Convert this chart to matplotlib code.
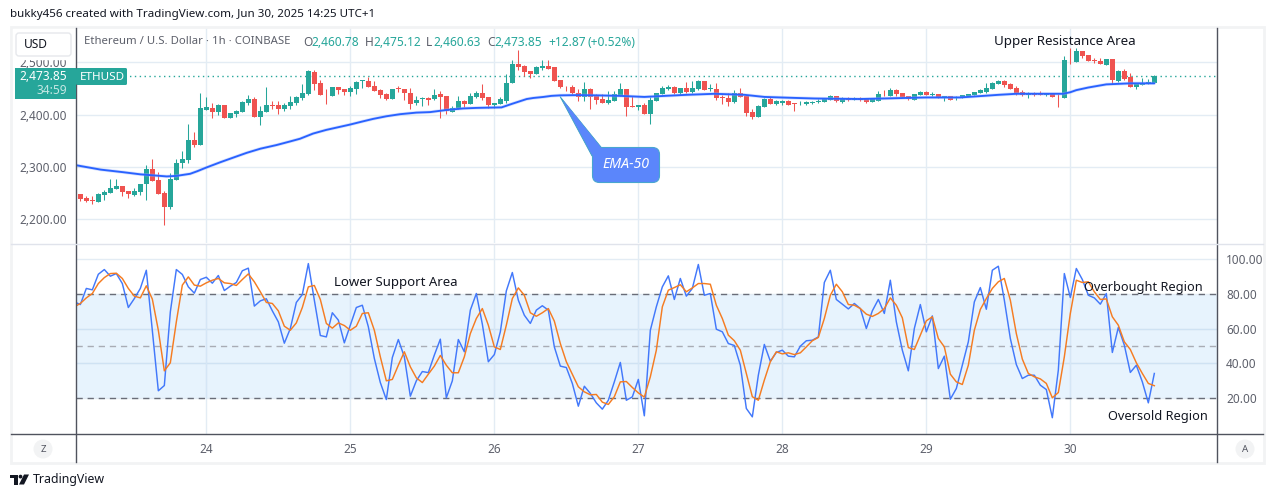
import numpy as np
import matplotlib
matplotlib.use("Agg")
import matplotlib.pyplot as plt
from matplotlib.patches import Rectangle, FancyBboxPatch, Polygon, Circle

plt.rcParams["font.family"] = "Noto Sans"

opens = [2249,2241,2237,2234,2247,2251,2258,2264,2254,2247,
2253,2267,2297,2276,2251,2223,2276,2307,2314,2351,
2342,2409,2413,2405,2418,2394,2401,2405,2423,2430,
2396,2405,2418,2418,2410,2417,2423,2432,2439,2482,
2460,2438,2435,2453,2449,2444,2449,2465,2464,2455,
2448,2440,2430,2451,2449,2442,2422,2430,2432,2430,
2439,2435,2406,2412,2426,2421,2433,2441,2433,2418,
2421,2426,2461,2497,2493,2483,2478,2490,2493,2492,
2466,2455,2453,2442,2433,2449,2437,2430,2422,2426,
2435,2449,2416,2415,2418,2401,2427,2439,2450,2453,
2441,2451,2443,2449,2464,2449,2449,2434,2431,2424,
2441,2435,2406,2395,2414,2430,2421,2423,2426,2422,
2422,2421,2423,2424,2424,2428,2435,2425,2431,2429,
2431,2431,2424,2426,2438,2435,2447,2441,2435,2429,
2437,2444,2437,2440,2432,2435,2431,2431,2435,2437,
2441,2443,2449,2458,2464,2458,2451,2443,2437,2440,
2441,2438,2440,2436,2431,2505,2501,2522,2514,2504,
2503,2496,2506,2464,2483,2472,2453,2456,2458,2460.78]
highs = [2249,2244,2244,2250,2256,2278,2278,2264,2254,2260,
2268,2303,2316,2290,2254,2289,2316,2330,2382,2366,
2441,2433,2422,2420,2418,2403,2409,2426,2437,2433,
2417,2453,2427,2426,2422,2435,2435,2459,2486,2485,
2466,2449,2453,2453,2449,2454,2464,2467,2472,2465,
2450,2442,2449,2455,2449,2451,2435,2433,2433,2449,
2446,2435,2416,2435,2428,2442,2446,2458,2433,2422,
2433,2478,2504,2524,2495,2483,2494,2504,2504,2492,
2466,2455,2457,2449,2462,2451,2439,2439,2445,2446,
2460,2449,2436,2419,2422,2434,2442,2454,2456,2454,
2451,2463,2464,2466,2464,2458,2460,2437,2441,2447,
2452,2437,2410,2419,2432,2433,2428,2428,2428,2422,
2426,2426,2427,2430,2431,2437,2435,2433,2433,2433,
2433,2431,2431,2445,2447,2451,2449,2441,2436,2440,
2445,2445,2444,2440,2435,2435,2435,2437,2440,2443,
2449,2460,2462,2466,2466,2460,2454,2447,2443,2443,
2445,2440,2440,2439,2512,2528,2528,2522,2514,2508,
2508,2506,2506,2485,2488,2479,2458,2470,2468,2475.12]
lows = [2235,2233,2230,2234,2236,2251,2258,2245,2241,2244,
2247,2236,2274,2249,2190,2219,2276,2299,2307,2338,
2342,2409,2394,2399,2394,2394,2396,2405,2419,2396,
2380,2405,2410,2401,2407,2410,2418,2428,2437,2448,
2438,2420,2435,2439,2438,2435,2439,2451,2453,2446,
2432,2428,2430,2443,2428,2411,2418,2417,2419,2428,
2394,2401,2405,2410,2414,2421,2431,2429,2413,2413,
2421,2422,2461,2486,2474,2470,2478,2486,2488,2465,
2451,2445,2439,2427,2426,2410,2420,2422,2420,2426,
2435,2397,2415,2409,2401,2383,2427,2439,2447,2439,
2439,2441,2441,2447,2447,2445,2429,2420,2416,2422,
2434,2397,2391,2395,2414,2420,2419,2418,2418,2408,
2418,2419,2420,2422,2424,2428,2424,2422,2426,2428,
2426,2422,2424,2426,2435,2435,2435,2433,2429,2429,
2437,2437,2435,2431,2427,2429,2429,2431,2435,2437,
2441,2441,2449,2458,2453,2449,2437,2435,2431,2435,
2437,2435,2433,2414,2431,2497,2501,2508,2503,2499,
2497,2495,2458,2462,2466,2453,2449,2456,2458,2460.63]
closes = [2239,2235,2235,2249,2253,2260,2264,2253,2248,2255,
2268,2297,2274,2249,2223,2278,2308,2316,2351,2342,
2412,2414,2405,2418,2394,2403,2407,2424,2430,2396,
2407,2418,2417,2410,2419,2424,2433,2441,2483,2459,
2438,2437,2453,2448,2444,2451,2462,2466,2453,2446,
2437,2430,2449,2450,2442,2421,2429,2432,2428,2437,
2434,2407,2413,2426,2421,2435,2441,2431,2418,2422,
2430,2461,2497,2492,2482,2478,2492,2493,2488,2465,
2453,2454,2441,2434,2449,2434,2429,2422,2428,2439,
2449,2415,2415,2419,2401,2429,2441,2451,2453,2441,
2451,2443,2451,2464,2447,2450,2431,2432,2424,2441,
2434,2404,2395,2416,2430,2420,2426,2426,2418,2420,
2423,2424,2424,2427,2430,2436,2426,2431,2429,2431,
2429,2424,2431,2439,2437,2447,2439,2433,2430,2439,
2443,2437,2440,2431,2435,2429,2433,2437,2439,2443,
2447,2451,2460,2464,2456,2449,2440,2437,2441,2438,
2437,2440,2433,2435,2504,2504,2522,2512,2503,2503,
2497,2506,2466,2483,2469,2453,2458,2460,2462,2473.85]

ema_bar = [-1,3.4,7.2,10,14.4,16,18.3,19.5,21,23.3,25,27.7,30,32.7,35,36.6,38.8,41,44.9,47,48.8,51,53.3,56,58.3,
           61,63.8,66,68,70.2,72,74.4,75.5,77.2,78.5,80,83,86,90,94,97.4,101,105.7,110.7,114,118,122.4,126,130,
           133.8,141,146.6,150.5,153,156,160,163.8,165,166,168,171,175,179]
ema_val = [2304,2295,2290,2286,2282,2283,2287,2292,2299,2309,2316,2327,2335,2342,2349,2354,2364,2371,2381,2387,2392,2397,2401,2404,2405,
           2409,2412,2413,2413.5,2414,2421,2430,2432,2434,2436,2437,2437.5,2437,2436,2434,2436,2438,2440,2438,2434,2432.5,2431,2430.5,2430,
           2431,2433,2433,2436,2438,2440,2440,2440,2443,2447,2452,2458,2460,2460]

stoch_k = [75.2,73.7,82.9,82.1,91,93.7,89.9,91.4,85.7,72,77.1,82.9,93.3,59,24.4,27.4,69.5,93.7,90.9,83.8,
80.2,88,89.3,85.9,90.3,81.7,84.2,86.3,93,94.5,72.8,75.8,77,70.1,63.8,51.6,60,74.9,79.4,97.1,
76.2,56,55.2,69,64.8,51.8,61.9,72,73.3,61,42.9,29.1,19.4,43.4,53.7,43.8,21.3,30.1,35.4,34.8,
44.8,53.9,20.4,30.1,53.7,46.7,70.5,80,62.5,41,45.1,58.1,81.5,92,76.2,67.6,62.9,70.5,73,70.5,
49.5,38.5,37.7,28.6,15.6,27,22.9,17.5,13.9,19,29.5,40.6,19,20.9,30.9,10.1,59,72.4,83.8,90.1,
76.6,88.6,78.5,82.9,96.6,79,80,59.6,58.1,51.4,50.3,39,14.3,9.5,33.3,50.9,41.3,46.3,47.6,44.2,
43.8,49.9,53,53.3,55.2,86.3,93.3,76.6,73.9,71.2,74.3,71.4,60,70.1,76.6,68.6,87.6,63.8,47.6,35.8,
60,73.7,58.1,67.2,37.1,44.2,19.6,25.7,39,52.4,75.2,83.4,71,93.3,95.6,76.2,54.3,39.4,31.4,33.3,
33.3,27.6,25.1,9,36.2,91.4,77.7,94.3,88,79,77.5,73.9,80,46.3,60.6,50.5,34.9,39,29.5,17.5,34.3]
stoch_d = [72.4,74.3,77.5,80,85.7,89.1,91.4,91.6,88.6,82.9,78.5,77.5,84.4,76.8,59,35.8,40.4,63.8,84.8,89.5,
84.8,84.2,86.1,87.6,88.6,86.1,85.7,84.6,88,91.2,86.7,81,74.9,74.3,70.1,61.3,59,63.2,72,83.8,
84.6,76.6,62.9,60.2,63.2,61.7,59,61.3,68.6,69,59,43.8,30.1,30.9,39,46.7,38.1,31.8,29.1,33.9,
38.5,44.6,39,34.7,34.7,43.8,57.1,65.7,71.4,61.9,49.5,48,61.9,77.1,83.2,79,69,67,69,71.4,
64.2,51.4,41,33.9,26.7,23.8,22.1,22.3,17.9,16.6,21,29.5,29.7,26.3,23.2,20.8,32.4,47.6,72.4,81.9,
83.4,85,81,83.2,85.7,85.7,85.3,73.3,65.7,56.2,53,47.6,34.3,21,19,30.5,41,46.7,45.5,46.1,
45.1,46.1,49.5,53,54.9,65.7,79,85.3,81,73.7,73.3,71.4,68.2,66.9,68.6,71.4,77.5,73.3,66.1,49.1,
48,56.2,64.4,66.7,54.3,49.5,33.9,29.5,28,39,59,70.9,77.1,82.9,86.7,88.6,76.2,57.1,42.5,34.3,
32.4,31.2,28.6,20.4,23.4,43.8,68.6,87.6,86.3,86.7,81,76.6,76.9,66.7,61.9,52.4,48,40.4,34.3,28.6,27.3]

day_ticks = [21,45,69,93,117,141,165]
day_labels = ["24","25","26","27","28","29","30"]
price_ticks = [2200,2300,2400,2500]
stoch_ticks = [20,40,60,80,100]
last_price = closes[-1]

W, H = 1281, 497
GREEN, RED, BLUE, ORANGE = "#26a69a", "#ef5350", "#2962ff", "#f57c22"
GRID, AXC, LAB = "#e3ecf4", "#50535e", "#5d606b"

fig = plt.figure(figsize=(W/100, H/100), dpi=100, facecolor="white")
L, R = 76, 1217
def rect(top, bot):
    return [L/W, 1-bot/H, (R-L)/W, (bot-top)/H]
ax1 = fig.add_axes(rect(28, 243))
ax2 = fig.add_axes(rect(244, 434))

x = np.arange(len(closes))
o, h, l, c = map(np.array, (opens, highs, lows, closes))
up = c >= o
cols = np.where(up, GREEN, RED)
xlim = ((L-80.33)/6, (R-80.33)/6)

# price pane
ax1.vlines(x, l, h, colors=cols, lw=0.75, zorder=3)
ax1.bar(x, np.maximum(np.abs(c-o), 1.2), bottom=np.minimum(o, c), width=0.82, color=cols, linewidth=0, zorder=4)
ax1.plot(ema_bar, ema_val, color="#9db6ff", lw=2.4, alpha=.4, zorder=5, solid_capstyle="round")
ax1.plot(ema_bar, ema_val, color=BLUE, lw=1.35, zorder=6, solid_capstyle="round")
ax1.axhline(last_price, color=GREEN, lw=1, ls=(0, (1, 2.5)), zorder=2)
ax1.set_xlim(xlim); ax1.set_ylim(2154.7, 2565.8)
ax1.set_yticks(price_ticks)
ax1.set_yticklabels([f"{v:,.2f}" for v in price_ticks])
ax1.set_xticks(day_ticks); ax1.set_xticklabels([])

# oscillator pane
xs = np.arange(-1, len(stoch_k)-1)
ax2.axhspan(20, 80, color="#e7f3fd", lw=0, zorder=0.2)
ax2.hlines([40, 60], *xlim, color="#cfe2f3", lw=1, zorder=1)
ax2.vlines(day_ticks, 20, 80, color="#d5e6f6", lw=1, zorder=1)
ax2.axhline(80, color="#6a6d78", lw=1, ls=(0, (4.5, 3.5)), zorder=2)
ax2.axhline(20, color="#6a6d78", lw=1, ls=(0, (4.5, 3.5)), zorder=2)
ax2.axhline(50, color="#a9acb5", lw=1, ls=(0, (4.5, 3.5)), zorder=2)
ax2.plot(xs, stoch_k, color="#4278fb", lw=1.05, zorder=4)
ax2.plot(xs, stoch_d, color=ORANGE, lw=1.05, zorder=5)
ax2.set_xlim(xlim); ax2.set_ylim(-0.3, 108.3)
ax2.set_yticks(stoch_ticks)
ax2.set_yticklabels([f"{v:.2f}" for v in stoch_ticks])
ax2.yaxis.tick_right()
ax2.set_xticks(day_ticks); ax2.set_xticklabels(day_labels)

for ax in (ax1, ax2):
    ax.grid(True, color=GRID, lw=1, zorder=0)
    ax.set_axisbelow(True)
    ax.tick_params(length=0, labelsize=8.5, labelcolor=LAB)
    for s in ax.spines.values():
        s.set_visible(False)
ax1.tick_params(axis="y", pad=6.5)
ax2.tick_params(axis="y", pad=6.5)
ax2.tick_params(axis="x", pad=6.5)
for t in ax1.get_yticklabels() + ax2.get_yticklabels():
    t.set_y(t.get_position()[1])

# pixel-space overlay for the chrome
ov = fig.add_axes([0, 0, 1, 1], zorder=10)
ov.set_xlim(0, W); ov.set_ylim(H, 0); ov.axis("off"); ov.patch.set_alpha(0)

ov.add_patch(Rectangle((10.5, 27), 1253, 436, fill=False, ec="#f2f3f4", lw=2))
ov.plot([L, L], [28, 462], color=AXC, lw=1)
ov.plot([R, R], [28, 462], color=AXC, lw=1)
ov.plot([11, 1263], [243.5, 243.5], color="#e0e3eb", lw=1)
ov.plot([11, 1263], [434, 434], color=AXC, lw=1)

def T(px, py, s, color="#131722", size=9, ha="left", **kw):
    return ov.text(px, py, s, color=color, fontsize=size, ha=ha, va="center", **kw)

T(10, 15, "bukky456 created with TradingView.com, Jun 30, 2025 14:25 UTC+1", size=8.35, color="#131722")

# USD box
ov.add_patch(Rectangle((13, 29), 62, 30, color="white", zorder=1))
ov.add_patch(FancyBboxPatch((16, 33), 55, 23, boxstyle="round,pad=0,rounding_size=3", fc="white", ec="#e6e8ec", lw=1, zorder=2))
T(23.5, 44, "USD", size=8.6, zorder=3)

# header
hdr = "#5d606b"
T(84, 42, "Ethereum / U.S. Dollar · 1h · COINBASE", hdr, 8.15)
for px, s, col in [(303, "O", hdr), (311, "2,460.78", GREEN), (365, "H", hdr), (373, "2,475.12", GREEN),
                   (426, "L", hdr), (433, "2,460.63", GREEN), (487, "C", hdr), (494, "2,473.85", GREEN),
                   (548, "+12.87", GREEN), (588, "(+0.52%)", GREEN)]:
    T(px, 42, s, col, 8.6)

# last price tag
ov.add_patch(Rectangle((15, 68), 61, 31, color=GREEN, lw=0, zorder=3))
ov.add_patch(FancyBboxPatch((76, 68), 51, 17, boxstyle="round,pad=0,rounding_size=1.5", fc=GREEN, ec="none", zorder=3))
T(67, 76.5, f"{last_price:,.2f}", "white", 8.6, ha="right", zorder=4, fontweight="medium")
T(67, 90, "34:59", "#c4e7e3", 8.6, ha="right", zorder=4)
T(80, 77, "ETHUSD", "white", 8.4, zorder=4)

# annotations
T(994, 42, "Upper Resistance Area", size=9.6)
T(334, 282.5, "Lower Support Area", size=9.5)
T(1084, 287.5, "Overbought Region", size=9.2)
T(1108, 416.5, "Oversold Region", size=9.2)

# EMA-50 callout
ov.add_patch(Polygon([(560, 96.5), (601, 147), (592, 156)], closed=True, fc="#5b86fb", ec="#3aa3c0", lw=.6, zorder=5))
ov.add_patch(FancyBboxPatch((592.5, 147.5), 67, 35, boxstyle="round,pad=0,rounding_size=7", fc="#5b86fb", ec="#48a6cf", lw=.8, zorder=5))
ov.add_patch(Polygon([(563, 100), (602, 149), (594, 158)], closed=True, fc="#5b86fb", ec="none", zorder=6))
T(626, 164.5, "EMA-50", "white", 10.2, ha="center", style="italic", fontweight="bold", zorder=7)

# corner buttons
for cx, s in [(43, "Z"), (1245, "A")]:
    ov.add_patch(Circle((cx, 449), 9.5, color="#f2f3f4", lw=0))
    T(cx, 449.5, s, "#50535e", 7, ha="center")

# TradingView mark
ov.add_patch(Polygon([(10, 474.5), (18, 474.5), (18, 484.5), (14, 484.5), (14, 478), (10, 478)], closed=True, color="#131722", lw=0))
ov.add_patch(Circle((20.5, 476.6), 1.9, color="#131722", lw=0))
ov.add_patch(Polygon([(24, 474.5), (29, 474.5), (24, 484.5), (19, 484.5)], closed=True, color="#131722", lw=0))
T(33, 479.5, "TradingView", "#131722", 8.9)

fig.savefig("out.png", dpi=100, facecolor="white")
